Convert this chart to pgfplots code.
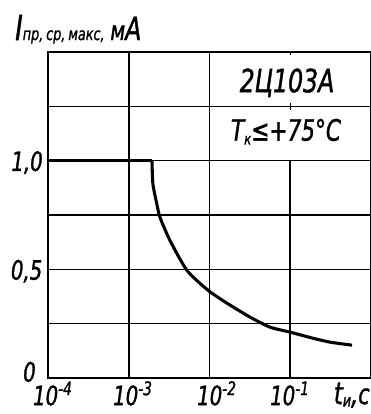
\documentclass[border=0pt]{standalone}
\usepackage{fontspec}
\setmainfont{DejaVu Sans Condensed}[FakeStretch=0.82, FakeBold=1.2]
\usepackage{pgfplots}
\pgfplotsset{compat=1.18}
\begin{document}
\begin{tikzpicture}
\useasboundingbox (0,0) rectangle (278.25pt,310.5pt);
\begin{axis}[
  at={(36pt,27pt)}, anchor=south west,
  scale only axis, width=242.25pt, height=244.5pt,
  xmode=log, xmin=1e-4, xmax=1, ymin=0, ymax=1.5,
  xtick=\empty, ytick=\empty,
  axis line style={line width=1.6pt},
  clip=false,
  font=\itshape,
  ]
\draw[line width=1.2pt] (axis cs:1e-3,0) -- (axis cs:1e-3,1.5);
\draw[line width=1.2pt] (axis cs:1e-2,0) -- (axis cs:1e-2,1.5);
\draw[line width=1.2pt] (axis cs:1e-1,0) -- (axis cs:1e-1,1.0);
\draw[line width=0.8pt] (axis cs:1e-1,1.5) -- (axis cs:1e-1,1.485);
\draw[line width=0.8pt] (axis cs:1e-1,1.265) -- (axis cs:1e-1,1.235);
\draw[line width=1.2pt] (axis cs:1e-4,0.25) -- (axis cs:1,0.25);
\draw[line width=1.2pt] (axis cs:1e-4,0.5) -- (axis cs:1,0.5);
\draw[line width=1.2pt] (axis cs:1e-4,0.75) -- (axis cs:1,0.75);
\draw[line width=1.2pt] (axis cs:1e-4,1.0) -- (axis cs:1,1.0);
\draw[line width=1.2pt] (axis cs:1e-4,1.25) -- (axis cs:1,1.25);

\addplot[black, line width=2.3pt, line join=round] coordinates {
(1e-4,1.0) (1.94e-3,1.0)
};
\addplot[black, line width=2.3pt, line join=round, smooth, tension=0.4] coordinates {
(1.94e-3,1.0) (1.99e-3,0.894) (2.22e-3,0.803) (2.44e-3,0.739)
(3.24e-3,0.633) (5.26e-3,0.495) (9.57e-3,0.404) (1.65e-2,0.344)
(3.18e-2,0.280) (5.61e-2,0.234) (9.93e-2,0.211) (0.191,0.183)
(0.310,0.165) (0.582,0.151)
};

% texts in box
\node[font=\fontsize{24}{24}\selectfont\itshape] at (axis cs:0.0912,1.358) {2Ц103А};
\node[font=\fontsize{22}{22}\selectfont\itshape] at (axis cs:0.0886,1.133) {T\raisebox{-0.25ex}{\fontsize{12}{12}\selectfont к}≤+75°С};

% y tick labels
\node[anchor=east, inner sep=0pt, font=\fontsize{20}{20}\selectfont\itshape] at (axis cs:8.67e-5,0.991) {1,0};
\node[anchor=east, inner sep=0pt, font=\fontsize{20}{20}\selectfont\itshape] at (axis cs:8.55e-5,0.491) {0,5};
\node[anchor=east, inner sep=0pt, font=\fontsize{20}{20}\selectfont\itshape] at (axis cs:7.1e-5,0.028) {0};

% x tick labels
\node[anchor=base west, inner sep=0pt, font=\fontsize{20}{20}\selectfont\itshape] at (axis cs:6.5e-5,-0.125) {10\textsuperscript{-4}};
\node[anchor=base west, inner sep=0pt, font=\fontsize{20}{20}\selectfont\itshape] at (axis cs:6.38e-4,-0.125) {10\textsuperscript{-3}};
\node[anchor=base west, inner sep=0pt, font=\fontsize{20}{20}\selectfont\itshape] at (axis cs:7.0e-3,-0.125) {10\textsuperscript{-2}};
\node[anchor=base west, inner sep=0pt, font=\fontsize{20}{20}\selectfont\itshape] at (axis cs:5.61e-2,-0.125) {10\textsuperscript{-1}};

% axis labels
\node[anchor=base west, inner sep=0pt, font=\fontsize{26}{26}\selectfont\itshape] at (axis cs:3.9e-5,1.555) {I{\fontsize{13}{13}\selectfont пр,\,ср,\,макс,}\,{\fontsize{20}{20}\selectfont м}{\fontsize{24}{24}\selectfont А}};
\node[anchor=base west, inner sep=0pt, font=\fontsize{23}{23}\selectfont\itshape] at (axis cs:0.345,-0.12) {t\raisebox{-0.15ex}{\fontsize{13}{13}\selectfont и},{\fontsize{21}{21}\selectfont с}};
\end{axis}
\end{tikzpicture}
\end{document}
